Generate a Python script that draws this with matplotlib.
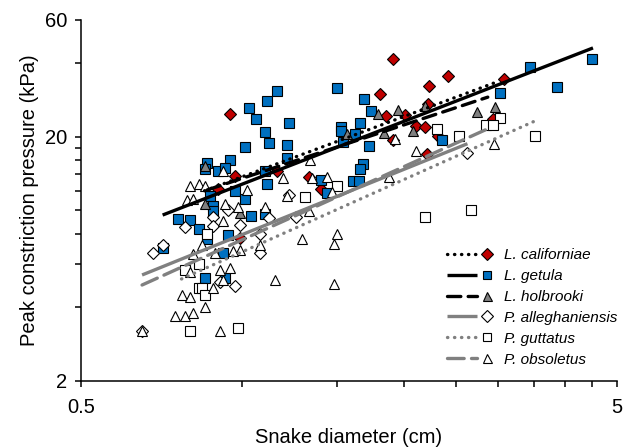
import matplotlib
matplotlib.use("Agg")
import matplotlib.pyplot as plt
from matplotlib.lines import Line2D
from matplotlib.legend_handler import HandlerBase
from matplotlib.ticker import FixedLocator, NullFormatter

plt.rcParams["font.family"] = ["Liberation Sans", "DejaVu Sans"]

# ---- data ----
species = ["L. californiae", "L. getula", "L. holbrooki",
           "P. alleghaniensis", "P. guttatus", "P. obsoletus"]

lc_x = [0.95, 0.97, 0.90, 1.16, 1.33, 1.40, 1.91, 2.42, 2.23, 1.81, 3.08, 1.85, 2.01, 2.22,
        2.11, 2.19, 2.32, 1.91, 2.21, 2.93, 0.99]
lc_y = [24.8, 13.8, 12.2, 14.5, 13.7, 12.2, 41.5, 35.4, 32.2, 29.9, 34.3, 24.3, 24.5, 27.1,
        22.0, 21.9, 20.1, 19.3, 16.9, 23.6, 7.7]

lg_x = [1.03, 1.16, 1.11, 1.06, 1.22, 1.10, 1.12, 1.01, 1.21, 1.21, 0.95, 0.86, 0.85, 0.90,
        0.93, 1.10, 1.11, 0.97, 1.01, 0.87, 0.88, 0.88, 0.76, 0.80, 0.83, 0.86, 0.94, 0.92,
        0.85, 0.93, 0.71, 1.04, 1.10, 1.50, 1.69, 1.74, 1.66, 1.53, 1.53, 1.62, 1.54, 1.72,
        1.68, 1.66, 1.61, 1.65, 1.40, 1.44, 3.44, 4.50, 3.87, 3.02, 2.36]
lg_y = [26.1, 30.8, 28.0, 23.7, 22.7, 20.9, 18.9, 18.1, 18.5, 16.4, 16.0, 15.6, 14.7, 14.5,
        14.9, 14.5, 12.8, 12.0, 11.1, 11.4, 10.4, 9.9, 9.2, 9.1, 8.4, 7.6, 7.9, 6.7,
        5.3, 5.3, 7.0, 9.5, 9.6, 31.5, 28.5, 25.5, 22.7, 21.8, 21.1, 20.5, 19.0, 18.3,
        15.4, 14.8, 13.2, 13.1, 13.3, 11.8, 38.6, 41.5, 31.9, 30.1, 19.4]

lh_x = [0.85, 0.85, 0.99, 1.57, 1.79, 1.95, 2.19, 2.74, 2.96, 2.08, 1.84]
lh_y = [15.1, 10.6, 9.7, 20.4, 24.8, 25.8, 26.7, 25.1, 26.4, 21.1, 20.7]

pa_x = [0.88, 0.88, 0.78, 0.71, 0.68, 0.94, 0.99, 0.91, 0.97, 0.65, 1.08, 1.08, 1.26, 1.12,
        1.22, 2.62]
pa_y = [9.4, 8.6, 8.5, 7.2, 6.7, 10.0, 8.7, 5.1, 4.9, 3.2, 8.0, 6.7, 9.4, 9.3, 11.5, 17.2]

pg_x = [0.86, 0.83, 0.78, 0.83, 0.84, 0.85, 0.80, 0.98, 1.31, 1.50, 2.31, 2.54, 3.03, 2.85,
        2.93, 3.52, 2.19, 2.67]
pg_y = [8.0, 6.0, 5.7, 4.8, 4.8, 4.5, 3.2, 3.3, 11.3, 12.6, 21.4, 20.1, 23.8, 22.4,
        22.3, 20.2, 9.4, 10.0]

po_x = [0.80, 0.83, 0.85, 0.79, 0.81, 0.92, 0.93, 0.98, 1.02, 1.19, 1.10, 1.21, 1.34, 1.35,
        1.44, 1.47, 1.33, 0.92, 0.84, 0.81, 0.89, 0.99, 0.96, 0.80, 0.91, 0.95, 0.92, 0.88,
        0.77, 0.80, 0.85, 0.75, 0.78, 0.81, 0.65, 0.91, 1.29, 1.50, 1.48, 1.15, 1.48, 1.08,
        1.93, 2.11, 2.95, 1.88]
po_y = [12.6, 12.8, 12.6, 11.0, 11.1, 14.5, 10.6, 10.3, 12.1, 13.6, 10.3, 11.4, 16.1, 13.5,
        13.7, 11.9, 9.9, 9.0, 7.2, 6.6, 6.7, 6.9, 6.8, 5.6, 5.7, 5.8, 5.2, 4.8,
        4.5, 4.4, 4.0, 3.7, 3.7, 3.8, 3.2, 3.2, 7.6, 8.0, 7.3, 5.2, 5.0, 7.2,
        19.6, 17.5, 18.6, 13.7]

# power-law trend lines (end points)
lc_fit_x, lc_fit_y = [0.85, 3.02], [12.0, 33.8]
lg_fit_x, lg_fit_y = [0.71, 4.51], [9.55, 46.1]
lh_fit_x, lh_fit_y = [0.86, 2.87], [12.1, 29.0]
pa_fit_x, pa_fit_y = [0.65, 2.63], [5.43, 18.7]
pg_fit_x, pg_fit_y = [0.77, 3.52], [5.23, 23.2]
po_fit_x, po_fit_y = [0.65, 2.92], [4.94, 21.9]

x_major = [0.5, 5]
x_minor = [1, 1.5, 2, 2.5, 3, 3.5, 4, 4.5]
y_major = [2, 20, 60]
y_minor = [4, 6, 8, 10, 12, 14, 16, 18, 40]

BLUE = "#0070C0"
RED = "#C00000"
GRAY = "#808080"
DOT = (0, (0.1, 2.0))
DASH = (0, (4, 2.2))
GDASH = (0, (5, 2.2))

series = [
    (lc_x, lc_y, lc_fit_x, lc_fit_y, "D", RED, "black", DOT),
    (lg_x, lg_y, lg_fit_x, lg_fit_y, "s", BLUE, "black", "-"),
    (lh_x, lh_y, lh_fit_x, lh_fit_y, "^", GRAY, "black", DASH),
    (pa_x, pa_y, pa_fit_x, pa_fit_y, "D", "white", GRAY, "-"),
    (pg_x, pg_y, pg_fit_x, pg_fit_y, "s", "white", GRAY, DOT),
    (po_x, po_y, po_fit_x, po_fit_y, "^", "white", GRAY, GDASH),
]
msize = {"D": 6.4, "s": 6.8, "^": 7.2}


class LineThenMarker(HandlerBase):
    def create_artists(self, legend, orig_handle, xdescent, ydescent, width, height,
                       fontsize, trans):
        line, mark = orig_handle
        y = height / 2 - ydescent
        x0 = -xdescent
        ln = Line2D([x0, x0 + width * 0.68], [y, y])
        ln.update_from(line)
        ln.set_data([x0, x0 + width * 0.68], [y, y])
        mk = Line2D([x0 + width * 0.92], [y], linestyle="none", marker=mark.get_marker(),
                    markersize=mark.get_markersize(), markerfacecolor=mark.get_markerfacecolor(),
                    markeredgecolor="black", markeredgewidth=0.8)
        ln.set_transform(trans)
        mk.set_transform(trans)
        return [ln, mk]


fig = plt.figure(figsize=(6.25, 4.47), dpi=100)
ax = fig.add_axes([0.1296, 0.1477, 0.8576, 0.8076])
ax.set_xscale("log")
ax.set_yscale("log")

handles = []
for i, (x, y, fx, fy, mk, fc, lc, ls) in enumerate(series):
    ax.plot(x, y, linestyle="none", marker=mk, markersize=msize[mk], markerfacecolor=fc,
            markeredgecolor="black", markeredgewidth=0.8, zorder=2 + i * 0.01)
for i, (x, y, fx, fy, mk, fc, lc, ls) in enumerate(series):
    ln, = ax.plot(fx, fy, color=lc, linewidth=2.4, linestyle=ls, dash_capstyle="round",
                  solid_capstyle="butt", zorder=4)
    mark = Line2D([], [], linestyle="none", marker=mk, markersize=msize[mk] * 0.9,
                  markerfacecolor=fc)
    handles.append((ln, mark))

ax.set_xlim(0.5, 5)
ax.set_ylim(2, 60)
ax.xaxis.set_major_locator(FixedLocator(x_major))
ax.xaxis.set_minor_locator(FixedLocator(x_minor))
ax.yaxis.set_major_locator(FixedLocator(y_major))
ax.yaxis.set_minor_locator(FixedLocator(y_minor))
ax.set_xticklabels([str(v) for v in x_major])
ax.set_yticklabels([str(v) for v in y_major])
ax.xaxis.set_minor_formatter(NullFormatter())
ax.yaxis.set_minor_formatter(NullFormatter())

for s in ["top", "right"]:
    ax.spines[s].set_visible(False)
for s in ["left", "bottom"]:
    ax.spines[s].set_linewidth(1.1)
ax.tick_params(which="both", direction="out", length=4, width=1.1, labelsize=14.5)
ax.tick_params(axis="x", which="major", pad=8)
ax.tick_params(axis="y", which="major", pad=6)

ax.set_xlabel("Snake diameter (cm)", fontsize=14.5, labelpad=8)
ax.set_ylabel("Peak constriction pressure (kPa)", fontsize=14.5, labelpad=4)

leg = ax.legend(handles, species, handler_map={tuple: LineThenMarker()},
                loc="lower right", bbox_to_anchor=(1.0, 0.04), frameon=False,
                prop={"style": "italic", "size": 11}, handlelength=2.85,
                handletextpad=0.85, labelspacing=0.45, borderpad=0, borderaxespad=0)

fig.savefig("out.png", dpi=100)
